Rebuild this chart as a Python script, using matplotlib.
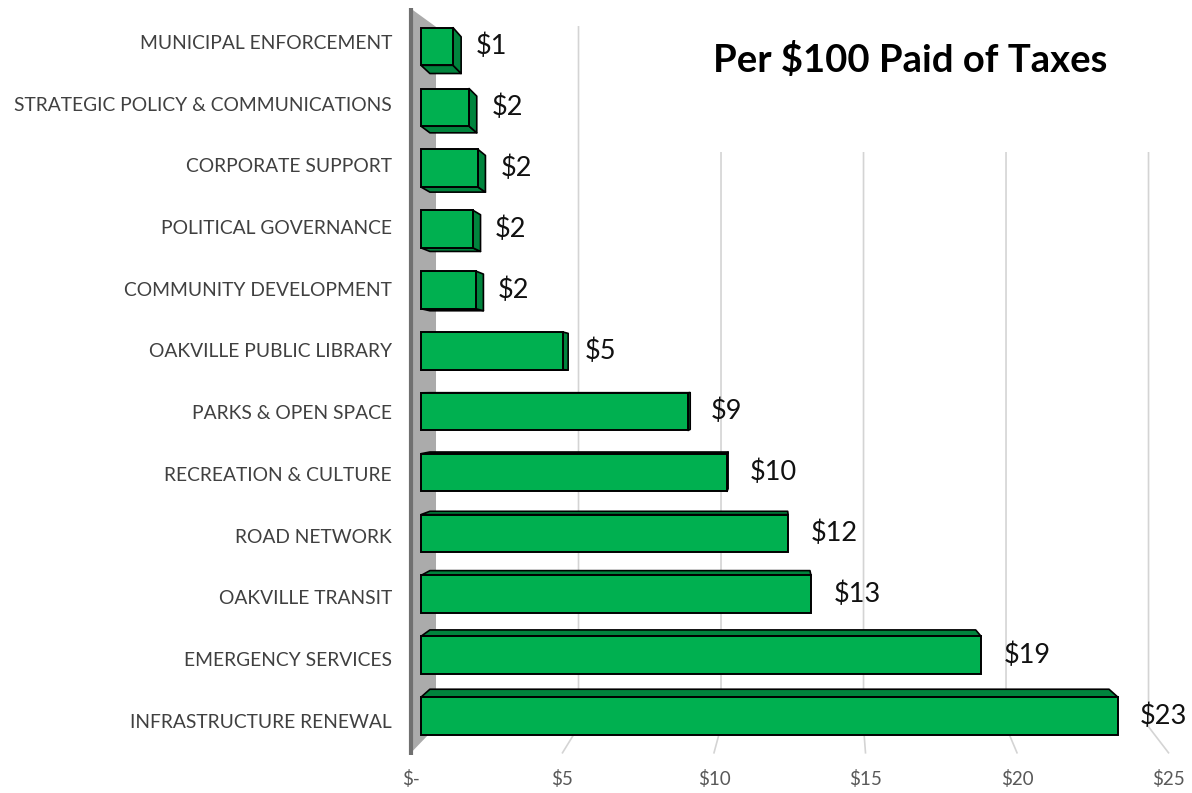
import matplotlib
matplotlib.use("Agg")
import matplotlib.pyplot as plt
from matplotlib.patches import Polygon, Rectangle
import numpy as np

plt.rcParams['font.family'] = ['Lato', 'DejaVu Sans']

# --- data (top to bottom) ---
categories = [
    "MUNICIPAL ENFORCEMENT",
    "STRATEGIC POLICY & COMMUNICATIONS",
    "CORPORATE SUPPORT",
    "POLITICAL GOVERNANCE",
    "COMMUNITY DEVELOPMENT",
    "OAKVILLE PUBLIC LIBRARY",
    "PARKS & OPEN SPACE",
    "RECREATION & CULTURE",
    "ROAD NETWORK",
    "OAKVILLE TRANSIT",
    "EMERGENCY SERVICES",
    "INFRASTRUCTURE RENEWAL",
]
values = [1.08, 1.62, 1.92, 1.75, 1.85, 4.78, 9.0, 10.31, 12.37, 13.14, 18.87, 23.48]
tick_values = [0, 5, 10, 15, 20, 25]
tick_labels = ["$-", "$5", "$10", "$15", "$20", "$25"]
title = "Per $100 Paid of Taxes"

GREEN = "#00B050"
GREEN_DARK = "#00843D"

W, H = 1192, 793
fig = plt.figure(figsize=(W / 100, H / 100), dpi=100)
ax = fig.add_axes([400 / W, (H - 760) / H, 792 / W, 752 / H])
ax.set_xlim(-0.7075, 25.977)
ax.set_ylim(11.637, -0.551)
for s in ax.spines.values():
    s.set_visible(False)

rows = np.arange(len(categories))

# --- perspective frame (wall, floor, gridlines) ---
def front_x(v):
    return -0.337 + 1.0209 * v

FV = np.array([13.85, 4.42])   # vanishing point of the chart box
FK = 0.0594
TOP, FLOOR = -0.54, 11.52

def back(p, vp, k):
    p = np.asarray(p, dtype=float)
    return p + k * (vp - p)

# left wall
x0 = front_x(0)
wall = [(x0, TOP), tuple(back((x0, TOP), FV, FK)),
        tuple(back((x0, FLOOR), FV, FK)), (x0, FLOOR)]
ax.add_patch(Polygon(wall, closed=True, facecolor="#ababab", edgecolor="none", zorder=1))
ax.plot([x0, x0], [TOP - 0.02, FLOOR + 0.03], color="#707070", lw=3, solid_capstyle="butt", zorder=2)

# gridlines on the back wall + floor diagonals
for v in tick_values[1:]:
    f_bot = (front_x(v), FLOOR)
    b_bot = back(f_bot, FV, FK)
    b_top = back((front_x(v), TOP), FV, FK)
    ax.plot([b_top[0], b_bot[0], f_bot[0]], [b_top[1], b_bot[1], f_bot[1]],
            color="#d4d4d4", lw=1.2, zorder=1)

# white box behind title hides gridlines
fig.patches.append(Rectangle((650 / W, 1 - 152 / H), 1 - 650 / W, 152 / H,
                             transform=fig.transFigure, facecolor="white",
                             edgecolor="none", zorder=1.5))

# --- 3D bars ---
BV = np.array([11.76, 5.59])   # vanishing point for bar depth
BK = 0.0255
bar_h = 0.61
bar_y = rows + 0.0136 * (5.36 - rows)

for y, v in zip(bar_y, values):
    yt, yb = y - bar_h / 2, y + bar_h / 2
    faces = []
    if yt > BV[1]:
        faces.append([(0, yt), (v, yt), back((v, yt), BV, BK), back((0, yt), BV, BK)])
    if yb < BV[1]:
        faces.append([(0, yb), (v, yb), back((v, yb), BV, BK), back((0, yb), BV, BK)])
    if v < BV[0]:
        faces.append([(v, yt), (v, yb), back((v, yb), BV, BK), back((v, yt), BV, BK)])
    for f in faces:
        ax.add_patch(Polygon(np.array(f, dtype=float), closed=True, facecolor=GREEN_DARK,
                             edgecolor="black", lw=1.2, joinstyle="round", zorder=3))

ax.barh(bar_y, values, height=bar_h, left=0, color=GREEN, edgecolor="black",
        linewidth=1.4, zorder=4)

for y, v in zip(bar_y, values):
    ax.text(v + 0.75, y, f"${v:.0f}", ha="left", va="center", fontsize=19.5,
            color="#111111", zorder=5)

# --- axes labels ---
ax.set_yticks(rows, categories)
ax.tick_params(axis="y", length=0, pad=5.8, labelsize=13.9, labelcolor="#404040")
ax.set_xticks([front_x(v) for v in tick_values], tick_labels)
ax.tick_params(axis="x", length=0, pad=7, labelsize=13.5, labelcolor="#595959")

fig.text(910 / W, 1 - 60 / H, title, ha="center", va="center", fontsize=27.5,
         fontweight="bold", color="black", zorder=6)

fig.savefig("out.png", dpi=100)
